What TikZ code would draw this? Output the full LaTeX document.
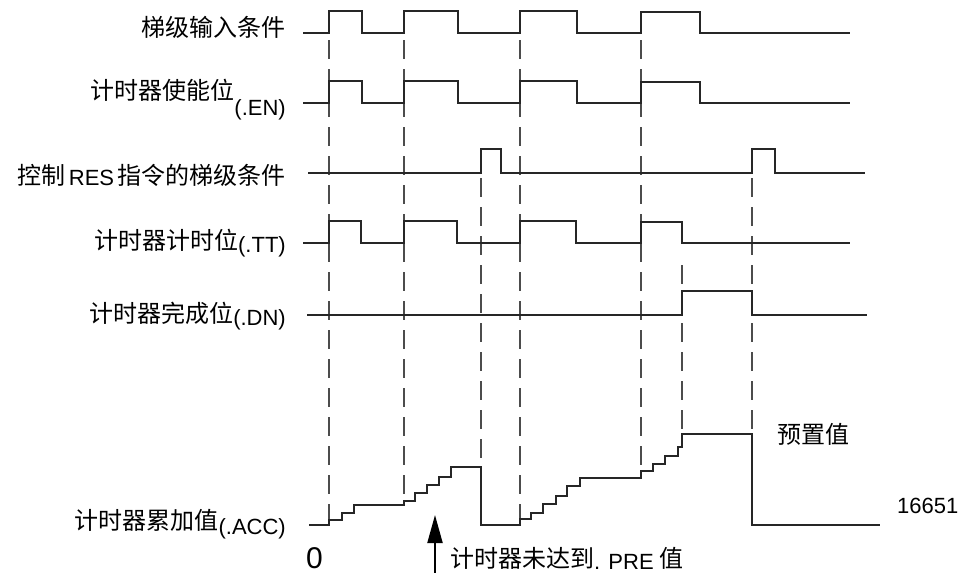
\documentclass[tikz,border=0pt]{standalone}
\usepackage{fontspec}
\setmainfont{Liberation Sans}
\newfontfamily\cjk{Noto Sans CJK SC}
\usetikzlibrary{arrows.meta}
\newcommand\myzh[1]{{\fontsize{24}{27}\selectfont\cjk #1}}
\newcommand\mylat[1]{{\fontsize{22}{25}\selectfont #1}}
\begin{document}
\begin{tikzpicture}[x=1pt,y=-1pt,
  wave/.style={line width=1.1pt, draw=black!85, line join=miter},
  guide/.style={line width=1.2pt, draw=black!70, dash pattern=on 19pt off 10pt},
  lbl/.style={inner sep=0pt, anchor=base east},
  txt/.style={inner sep=0pt, anchor=base west}]
\fill[white] (0,0) rectangle (972,573);
\useasboundingbox (0,0) rectangle (972,573);

% dashed guide lines
\draw[guide] (329,40) -- (329,520);
\draw[guide] (404,40) -- (404,501);
\draw[guide] (481,178) -- (481,467);
\draw[guide] (520,40) -- (520,519);
\draw[guide] (641,40) -- (641,471);
\draw[guide] (682,265) -- (682,447);
\draw[guide] (752,178) -- (752,434);

% waveforms
\draw[wave] (303,33)--(329,33)--(329,11)--(362,11)--(362,33)--(404,33)--(404,11)--(458,11)--(458,33)--(520,33)--(520,11)--(577,11)--(577,33)--(641,33)--(641,12)--(700,12)--(700,33)--(850,33);
\draw[wave] (303,103)--(329,103)--(329,81)--(362,81)--(362,103)--(404,103)--(404,81)--(458,81)--(458,103)--(520,103)--(520,81)--(577,81)--(577,103)--(641,103)--(641,82)--(700,82)--(700,103)--(850,103);
\draw[wave] (308,173)--(481,173)--(481,149)--(501,149)--(501,173)--(752,173)--(752,149)--(775,149)--(775,173)--(865,173);
\draw[wave] (303,243)--(329,243)--(329,221)--(361,221)--(361,243)--(404,243)--(404,221)--(457,221)--(457,243)--(520,243)--(520,221)--(576,221)--(576,243)--(641,243)--(641,222)--(682,222)--(682,243)--(850,243);
\draw[wave] (307,315)--(682,315)--(682,291)--(752,291)--(752,315)--(867,315);
\draw[wave] (309,525)--(329,525)--(329,520)--(342,520)--(342,513)--(354,513)--(354,505)--(404,505)--(404,501)--(415,501)--(415,493)--(427,493)--(427,485)--(439,485)--(439,477)--(451,477)--(451,467)--(481,467)--(481,525)--(520,525)--(520,519)--(531,519)--(531,513)--(543,513)--(543,504)--(556,504)--(556,496)--(567,496)--(567,486)--(580,486)--(580,478)--(641,478)--(641,471)--(653,471)--(653,464)--(665,464)--(665,456)--(678,456)--(678,447)--(682,447)--(682,434)--(752,434)--(752,525)--(880,525);

% labels
\node[lbl] (l1) at (286,36) {\myzh{梯级输入条件}};
\node[lbl] (l2) at (286,99) {\myzh{计时器使能位}\raisebox{-16pt}{\mylat{(.EN)}}};
\node[lbl] (l3) at (286,184) {\myzh{控制}\raisebox{-1pt}{\mylat{\,RES\,}}\myzh{指令的梯级条件}};
\node[lbl] (l4) at (286,249) {\myzh{计时器计时位}\raisebox{-3pt}{\mylat{(.TT)}}};
\node[lbl] (l5) at (286,322) {\myzh{计时器完成位}\raisebox{-3pt}{\mylat{(.DN)}}};
\node[lbl] (l6) at (286,529) {\myzh{计时器累加值}\raisebox{-5pt}{\mylat{(.ACC)}}};

\node[txt] (zero) at (306,568) {\fontsize{30}{33}\selectfont 0};
\node[txt] (note) at (450,567) {\myzh{计时器未达到}\raisebox{-2pt}{\mylat{. PRE }}\myzh{值}};
\node[txt] (pre) at (777,443) {\myzh{预置值}};
\node[txt] (num) at (897,513) {\mylat{16651}};

% arrow
\coordinate (arrS) at (435,573);
\coordinate (arrE) at (435,515);
\draw[line width=2pt, -{Triangle[length=28pt,width=15pt]}] (arrS) -- (arrE);
\end{tikzpicture}
\end{document}
